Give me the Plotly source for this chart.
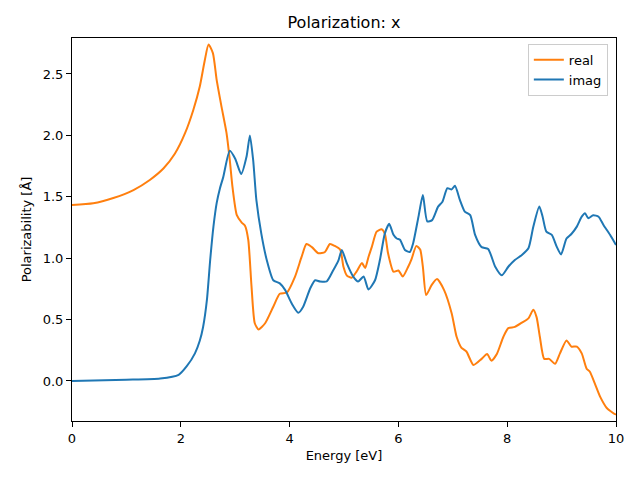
import plotly.graph_objects as go

real_E = [0.0, 0.39, 0.76, 1.13, 1.43, 1.68, 1.89, 2.08, 2.23, 2.35, 2.44, 2.51, 2.59, 2.66, 2.75, 2.84,
          2.90, 2.95, 3.03, 3.12, 3.18, 3.24, 3.30, 3.36, 3.43, 3.55, 3.70, 3.82, 3.95, 4.10, 4.22, 4.31,
          4.41, 4.53, 4.65, 4.74, 4.83, 4.93, 4.99, 5.05, 5.14, 5.23, 5.33, 5.39, 5.45, 5.51, 5.60, 5.69,
          5.75, 5.81, 5.91, 6.00, 6.08, 6.18, 6.24, 6.33, 6.40, 6.45, 6.51, 6.61, 6.71, 6.84, 6.98, 7.07,
          7.16, 7.25, 7.38, 7.53, 7.63, 7.71, 7.81, 7.93, 8.02, 8.14, 8.27, 8.39, 8.48, 8.54, 8.60, 8.68,
          8.77, 8.88, 8.97, 9.09, 9.18, 9.28, 9.37, 9.46, 9.52, 9.61, 9.71, 9.83, 9.98, 10.0]
real_v = [1.433, 1.447, 1.49, 1.555, 1.637, 1.73, 1.85, 2.02, 2.207, 2.40, 2.61, 2.74, 2.67, 2.45, 2.23, 2.02,
          1.80, 1.58, 1.35, 1.29, 1.265, 1.15, 0.77, 0.47, 0.42, 0.47, 0.605, 0.71, 0.72, 0.85, 1.01, 1.115,
          1.09, 1.04, 1.05, 1.115, 1.10, 1.07, 0.93, 0.86, 0.84, 0.89, 0.96, 0.92, 1.01, 1.09, 1.216, 1.235,
          1.20, 1.04, 0.89, 0.90, 0.85, 0.93, 0.99, 1.10, 1.07, 0.93, 0.70, 0.78, 0.83, 0.74, 0.55, 0.36,
          0.27, 0.24, 0.13, 0.18, 0.22, 0.165, 0.22, 0.36, 0.43, 0.44, 0.475, 0.51, 0.58, 0.52, 0.36, 0.18,
          0.18, 0.14, 0.225, 0.33, 0.28, 0.28, 0.225, 0.10, 0.075, -0.02, -0.13, -0.22, -0.27, -0.27]

imag_E = [0.0, 1.0, 1.62, 1.96, 2.11, 2.26, 2.35, 2.41, 2.48, 2.54, 2.60, 2.66, 2.72, 2.78, 2.90, 3.00,
          3.11, 3.21, 3.27, 3.33, 3.39, 3.48, 3.58, 3.70, 3.82, 3.92, 4.04, 4.16, 4.25, 4.38, 4.47, 4.56,
          4.68, 4.80, 4.90, 4.96, 5.05, 5.17, 5.26, 5.36, 5.45, 5.57, 5.66, 5.75, 5.83, 5.91, 5.97, 6.03,
          6.12, 6.21, 6.27, 6.37, 6.45, 6.53, 6.62, 6.73, 6.81, 6.90, 6.98, 7.04, 7.13, 7.22, 7.32, 7.41,
          7.53, 7.65, 7.78, 7.90, 8.02, 8.14, 8.27, 8.39, 8.48, 8.59, 8.65, 8.72, 8.82, 8.91, 8.99, 9.09,
          9.18, 9.28, 9.37, 9.43, 9.49, 9.58, 9.68, 9.77, 9.89, 10.0]
imag_v = [0.0, 0.01, 0.02, 0.05, 0.12, 0.225, 0.33, 0.44, 0.66, 0.985, 1.257, 1.45, 1.57, 1.66, 1.875, 1.81,
          1.686, 1.83, 2.00, 1.80, 1.47, 1.20, 0.985, 0.82, 0.795, 0.74, 0.63, 0.556, 0.605, 0.755, 0.82, 0.81,
          0.81, 0.90, 0.985, 1.067, 0.96, 0.85, 0.81, 0.85, 0.745, 0.82, 0.985, 1.20, 1.28, 1.19, 1.16, 1.15,
          1.067, 1.05, 1.12, 1.34, 1.515, 1.30, 1.31, 1.42, 1.46, 1.57, 1.56, 1.59, 1.475, 1.38, 1.35, 1.19,
          1.09, 1.075, 0.93, 0.86, 0.93, 0.985, 1.026, 1.08, 1.256, 1.42, 1.34, 1.216, 1.19, 1.094, 1.03, 1.16,
          1.197, 1.257, 1.338, 1.366, 1.325, 1.35, 1.338, 1.27, 1.19, 1.107]

x_ticks = [0, 2, 4, 6, 8, 10]
y_ticks = [0.0, 0.5, 1.0, 1.5, 2.0, 2.5]

fig = go.Figure()
fig.add_trace(go.Scatter(x=real_E, y=real_v, mode="lines", name="real",
                         line=dict(color="#ff7f0e", width=2, shape="spline", smoothing=0.6)))
fig.add_trace(go.Scatter(x=imag_E, y=imag_v, mode="lines", name="imag",
                         line=dict(color="#1f77b4", width=2, shape="spline", smoothing=0.6)))

axis_common = dict(showline=True, linecolor="black", linewidth=1, mirror=True,
                   ticks="outside", ticklen=5, tickwidth=1, tickcolor="black",
                   showgrid=False, zeroline=False,
                   tickfont=dict(family="DejaVu Sans", size=13, color="black"))

fig.update_layout(
    width=640, height=480,
    margin=dict(l=64, r=32, t=30, b=67),
    paper_bgcolor="white", plot_bgcolor="white",
    font=dict(family="DejaVu Sans", size=13, color="black"),
    title=dict(text="Polarization: x", x=0.5, xref="paper", xanchor="center",
               y=0.971, yref="container", yanchor="middle",
               font=dict(family="DejaVu Sans", size=16, color="black")),
    xaxis=dict(range=[0, 10], tickvals=x_ticks,
               title=dict(text="Energy [eV]", standoff=6, font=dict(size=13)), **axis_common),
    yaxis=dict(range=[-0.326, 2.793], tickvals=y_ticks, tickformat=".1f",
               title=dict(text="Polarizability [Å]", standoff=8, font=dict(size=13)), **axis_common),
    legend=dict(x=0.985, y=0.985, xanchor="right", yanchor="top",
                bgcolor="rgba(255,255,255,0.8)", bordercolor="#cccccc", borderwidth=1,
                font=dict(family="DejaVu Sans", size=13), tracegroupgap=0),
    showlegend=True,
)

fig.write_html("out.html")
